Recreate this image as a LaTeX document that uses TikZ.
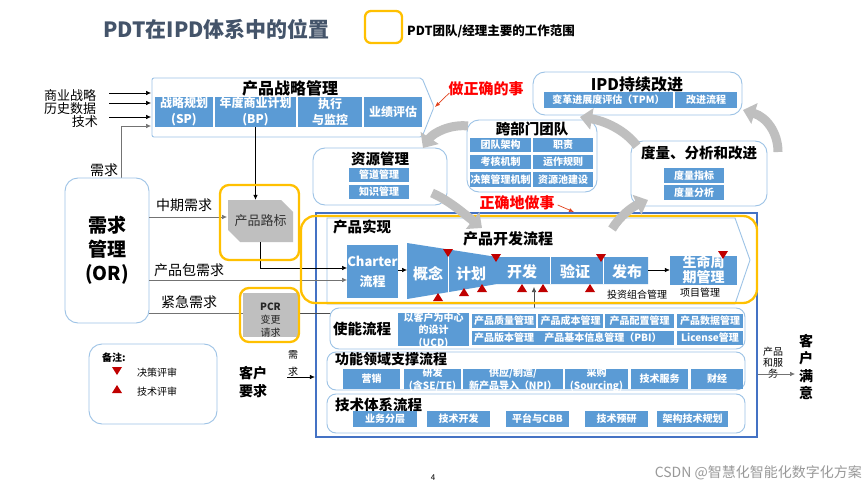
\documentclass[tikz,border=0pt]{standalone}
\usepackage{fontspec}
\setmainfont{Noto Sans CJK SC}
\usetikzlibrary{arrows.meta,shapes.misc}
\definecolor{bfill}{HTML}{5B9BD5}
\definecolor{lblue}{HTML}{9DC3E6}
\definecolor{ylw}{HTML}{FFC000}
\definecolor{dblue}{HTML}{4472C4}
\definecolor{gryA}{HTML}{BFBFBF}
\definecolor{ttl}{HTML}{44546A}
\definecolor{redA}{HTML}{C00000}
\definecolor{redB}{HTML}{FF0000}
\definecolor{redC}{HTML}{E2401A}
\newcommand\bx[8]{%
  \pgfmathsetmacro\bxcx{(#3+#5)/2}%
  \pgfmathsetmacro\bxcy{(#4+#6)/2}%
  \pgfmathsetmacro\bxw{#5-#3}%
  \pgfmathsetmacro\bxh{#6-#4}%
  \node[#1,minimum width=\bxw pt,minimum height=\bxh pt,inner sep=0pt] (#2) at (\bxcx,\bxcy) {};%
  \node[#8] (#2t) at (#2.center) {#7};%
}
\newcommand\dtri[2]{\fill[redA] ({#1-5},{#2-4}) -- ({#1+5},{#2-4}) -- (#1,{#2+4}) -- cycle;}
\newcommand\utri[2]{\fill[redA] ({#1-5},{#2+4}) -- ({#1+5},{#2+4}) -- (#1,{#2-4}) -- cycle;}
\tikzset{
 bb/.style={fill=bfill, draw=none},
 lbox/.style={draw=lblue, line width=0.9pt, fill=white, rounded corners=10pt},
 ybox/.style={draw=ylw, line width=2.3pt, rounded corners=9pt, inner sep=0pt},
 wt/.style={text=white, font=\bfseries\fontsize{10}{12.5}\selectfont, align=center, inner sep=0pt},
 wtb/.style={text=white, font=\bfseries\fontsize{12}{16}\selectfont, align=center, inner sep=0pt},
 wtc/.style={text=white, font=\bfseries\fontsize{15}{15}\selectfont, align=center, inner sep=0pt},
 hd/.style={font=\bfseries\fontsize{14.5}{15}\selectfont, inner sep=0pt},
 lbl/.style={font=\fontsize{14}{14}\selectfont, inner sep=0pt},
 sml/.style={font=\fontsize{10}{11}\selectfont, inner sep=0pt, align=center},
 connB/.style={-{Latex[length=5pt,width=4.5pt]}, line width=0.6pt, draw=black},
 connG/.style={-{Latex[length=5pt,width=4.5pt]}, line width=0.6pt, draw=black!55},
 lineG/.style={line width=0.6pt, draw=black!55},
 garr/.style={draw=gryA, line width=9pt, -{Triangle[length=12pt,width=21pt]}},
 rarr/.style={-{Latex[length=5pt,width=4pt]}, line width=0.7pt, draw=redC},
}
\begin{document}
\begin{tikzpicture}[x=1pt,y=-1pt]
\useasboundingbox (0,0) rectangle (865,487);
\fill[white] (0,0) rectangle (865,487);

% ---------- title and legend
\node[anchor=west, text=ttl, font=\bfseries\fontsize{21}{24}\selectfont, inner sep=0pt] (title) at (103,29) {PDT在IPD体系中的位置};
\node[ybox, minimum width=37pt, minimum height=32pt, rounded corners=6pt] (legbox) at (383.5,27) {};
\node[anchor=west, font=\bfseries\fontsize{12.5}{14}\selectfont, inner sep=0pt] (legtxt) at (407,31) {PDT团队/经理主要的工作范围};

% ---------- product strategy
\draw[draw=lblue, line width=0.9pt, fill=white, rounded corners=2pt] (152,78) -- (422,78) -- (434,107) -- (422,137) -- (152,137) -- cycle;
\coordinate (spoint) at (435,107);
\node[font=\bfseries\fontsize{16}{18}\selectfont, inner sep=0pt] (spm) at (290,88) {产品战略管理};
\bx{bb}{sp}{155}{97}{213}{127}{战略规划\\(SP)}{wtb}
\bx{bb}{bp}{215}{97}{296}{127}{年度商业计划\\(BP)}{wtb}
\bx{bb}{ex}{298}{97}{362}{127}{执行\\与监控}{wtb}
\bx{bb}{pe}{364}{97}{422}{127}{业绩评估}{wtb}

% ---------- inputs
\node[font=\fontsize{13}{13}\selectfont, inner sep=0pt, anchor=west] (in1) at (44,96) {商业战略};
\node[font=\fontsize{13}{13}\selectfont, inner sep=0pt, anchor=west] (in2) at (44,109) {历史数据};
\node[font=\fontsize{13}{13}\selectfont, inner sep=0pt, anchor=east] (in3) at (98,122) {技术};
\foreach \yy/\nm in {93/a,103/b,117/c}{\coordinate (s\nm) at (109,\yy); \coordinate (e\nm) at (151,\yy); \draw[connB] (s\nm) -- (e\nm);}
\coordinate (sd) at (121,178); \coordinate (ed) at (151,126);
\draw[connG] (sd) |- (ed);
\node[lbl] (xq) at (104,170) {需求};

% ---------- requirement management
\bx{lbox,rounded corners=13pt}{orb}{65}{178}{149}{323}{需求\\管理\\(OR)}{font=\bfseries\fontsize{19}{24}\selectfont, align=center, inner sep=0pt}
\node[lbl] (mq) at (184,205) {中期需求};
\node[lbl] (cq) at (189,270) {产品包需求};
\node[lbl] (jq) at (189,302) {紧急需求};

% ---------- roadmap
\node[chamfered rectangle, chamfered rectangle corners={north east,south west}, chamfered rectangle sep=6pt, fill=gryA, minimum width=65pt, minimum height=42pt, inner sep=0pt, font=\fontsize{13}{13}\selectfont, text=black!80] (rm) at (260.5,221) {产品路标};
\coordinate (rmin) at (227,217);
\draw[connG] (orb.east |- rmin) -- (rmin);
\draw[connB] (bp.south) -- (bp.south |- rm.north);

% ---------- PCR
\node[fill=gryA, minimum width=55pt, minimum height=44pt, inner sep=0pt] (pcr) at (270.5,315) {};
\node[align=center, font=\fontsize{10}{13}\selectfont, inner sep=0pt, text=black!85] (pcrt) at (270.5,320) {\textbf{PCR}\\变更\\请求};
\coordinate (jj) at (243,313);
\draw[lineG] (orb.east |- jj) -- (jj);

% ---------- upper boxes
\bx{lbox,rounded corners=12pt}{zy}{313}{148}{447}{205}{}{}
\node[hd] (zyh) at (380,159) {资源管理};
\bx{bb}{gd}{349}{168}{409}{182}{管道管理}{wt}
\bx{bb}{zs}{349}{185}{409}{199}{知识管理}{wt}

\bx{lbox,rounded corners=12pt}{kb}{467}{120}{597}{192}{}{}
\node[hd] (kbh) at (532,129) {跨部门团队};
\bx{bb}{k1}{470}{138}{531}{152}{团队架构}{wt}
\bx{bb}{k2}{533}{138}{593}{152}{职责}{wt}
\bx{bb}{k3}{470}{155}{531}{169}{考核机制}{wt}
\bx{bb}{k4}{533}{155}{593}{169}{运作规则}{wt}
\bx{bb}{k5}{470}{172}{531}{187}{决策管理机制}{wt}
\bx{bb}{k6}{533}{172}{593}{187}{资源池建设}{wt}

\bx{lbox,rounded corners=12pt}{ipd}{533}{72}{742}{115}{}{}
\node[font=\bfseries\fontsize{16}{16}\selectfont, inner sep=0pt] (ipdh) at (637,84) {IPD持续改进};
\bx{bb}{tpm}{544}{92}{673}{108}{变革进展度评估（TPM）}{wt}
\bx{bb}{gj}{675}{92}{737}{108}{改进流程}{wt}

\bx{lbox,rounded corners=12pt}{dl}{631}{141}{767}{206}{}{}
\node[hd] (dlh) at (699,153) {度量、分析和改进};
\bx{bb}{d1}{664}{168}{724}{183}{度量指标}{wt}
\bx{bb}{d2}{664}{185}{724}{200}{度量分析}{wt}

% ---------- main box
\node[draw=dblue, line width=2.2pt, fill=white, minimum width=441pt, minimum height=224pt, inner sep=0pt] (mainb) at (536.5,325) {};
\draw[draw=lblue, line width=0.9pt] (327,218) -- (735,218) -- (750,260) -- (735,304) -- (327,304) -- cycle;
\node[hd, anchor=west] (cpsx) at (333,227) {产品实现};
\node[font=\bfseries\fontsize{15}{15}\selectfont, inner sep=0pt] (cpkf) at (508,239) {产品开发流程};

% connectors into the product realisation
\coordinate (chin1) at (347,268);
\coordinate (chin2) at (347,280);
\draw[connB] (rm.south) |- (chin1);
\draw[connG] (orb.east |- chin2) -- (chin2);
\coordinate (kfup) at (534,287);
\draw[draw=black!70, line width=0.6pt, -{Latex[length=5pt,width=4.5pt]}] (pcr.east |- jj) -| (kfup);

% charter and funnel
\bx{bb}{ch}{347}{245}{398}{298}{Charter\\流程}{text=white, font=\bfseries\fontsize{13}{20}\selectfont, align=center, inner sep=0pt}
\fill[bfill] (407,243) -- (497,257) -- (648,257) -- (648,284) -- (497,284) -- (407,299) -- cycle;
\draw[white, line width=0.8pt] (448,249.4) -- (448,292.6);
\draw[white, line width=0.8pt] (550,257) -- (550,284);
\draw[white, line width=0.8pt] (603,257) -- (603,284);
\node[wtc] (gn) at (428,274) {概念};
\node[wtc] (jh) at (471,274) {计划};
\node[wtc] (kf) at (522,272) {开发};
\node[wtc] (yz) at (575,272) {验证};
\node[wtc] (fb) at (627,272) {发布};
\coordinate (gnin) at (407,270);
\draw[connB] (ch.east |- gnin) -- (gnin);
\bx{bb}{smz}{670}{256}{737}{285}{生命周\\期管理}{text=white, font=\bfseries\fontsize{14}{15}\selectfont, align=center, inner sep=0pt, yshift=1pt}
\coordinate (fbout) at (648,270);
\draw[connB] (fbout) -- (smz.west |- fbout);
\node[sml] (tz) at (637,295) {投资组合管理};
\node[sml] (xm) at (700,293) {项目管理};
% reviews
\dtri{448}{253}\dtri{496}{258}\dtri{601}{258}\dtri{723}{255}
\utri{438}{297}\utri{464}{292}\utri{482}{288}\utri{522}{288}\utri{543}{288}\utri{590}{288}

% ---------- enabling processes
\bx{lbox,rounded corners=9pt}{sn}{330}{308}{745}{349}{}{}
\node[hd] (snh) at (362,329) {使能流程};
\bx{bb}{ucd}{398}{313}{469}{346}{以客户为中心\\的设计\\(UCD)}{wt, yshift=-1pt}
\bx{bb}{q1}{472}{314}{536}{328}{产品质量管理}{wt}
\bx{bb}{q2}{538}{314}{603}{328}{产品成本管理}{wt}
\bx{bb}{q3}{605}{314}{674}{328}{产品配置管理}{wt}
\bx{bb}{q4}{677}{314}{743}{328}{产品数据管理}{wt}
\bx{bb}{q5}{472}{331}{674}{345}{}{}
\node[wt] (q5a) at (504,338) {产品版本管理};
\node[wt] (q5b) at (603,338) {产品基本信息管理（PBI）};
\bx{bb}{q6}{677}{331}{743}{345}{License管理}{wt}

\bx{lbox,rounded corners=9pt}{gn2}{327}{352}{745}{390}{}{}
\node[font=\bfseries\fontsize{14}{15}\selectfont, inner sep=0pt, anchor=west] (gnh) at (335,359.5) {功能领域支撑流程};
\bx{bb}{f1}{343}{369}{400}{389}{营销}{wt}
\bx{bb}{f2}{404}{369}{461}{389}{研发\\(含SE/TE)}{wt, font=\bfseries\fontsize{10}{13}\selectfont, yshift=-0.5pt}
\bx{bb}{f3}{463}{369}{563}{389}{供应/制造/\\新产品导入（NPI）}{wt, font=\bfseries\fontsize{10}{13}\selectfont, yshift=-0.5pt}
\bx{bb}{f4}{565}{369}{628}{389}{采购\\(Sourcing)}{wt, font=\bfseries\fontsize{10}{13}\selectfont, yshift=-0.5pt}
\bx{bb}{f5}{631}{369}{688}{389}{技术服务}{wt}
\bx{bb}{f6}{691}{369}{743}{389}{财经}{wt}

\bx{lbox,rounded corners=9pt}{js}{327}{394}{745}{433}{}{}
\node[hd, anchor=west] (jsh) at (335,405) {技术体系流程};
\bx{bb}{t1}{353}{411}{417}{427}{业务分层}{wt}
\bx{bb}{t2}{427}{411}{490}{427}{技术开发}{wt}
\bx{bb}{t3}{506}{411}{569}{427}{平台与CBB}{wt}
\bx{bb}{t4}{585}{411}{648}{427}{技术预研}{wt}
\bx{bb}{t5}{657}{411}{728}{427}{架构技术规划}{wt}

% ---------- yellow PDT scopes
\node[ybox, minimum width=79pt, minimum height=75pt] (rmy) at (259.5,222.5) {};
\node[ybox, minimum width=59pt, minimum height=54pt] (pcry) at (269.5,315) {};
\node[ybox, minimum width=456pt, minimum height=87pt, rounded corners=14pt] (bigy) at (529,259.5) {};

% ---------- legend box
\bx{lbox,rounded corners=13pt}{bz}{89}{344}{217}{424}{}{}
\node[font=\bfseries\fontsize{10}{10}\selectfont, inner sep=0pt] (bzh) at (114,358) {备注:};
\dtri{117}{371}\utri{117}{389}
\node[sml, anchor=west] (bz1) at (137,373) {决策评审};
\node[sml, anchor=west] (bz2) at (137,392) {技术评审};

% ---------- customer
\node[font=\bfseries\fontsize{14}{18}\selectfont, align=center, inner sep=0pt] (khyq) at (253,382) {客户\\要求};
\node[font=\fontsize{10}{17}\selectfont, align=center, inner sep=0pt] (xq2) at (293,363.5) {需\\求};
\coordinate (khs) at (287,377);
\draw[connB] (khs) -- (mainb.west |- khs);
\node[font=\fontsize{10}{11}\selectfont, align=center, inner sep=0pt] (cpfw) at (773,363) {产品\\和服\\务};
\coordinate (kmy) at (795,374);
\draw[connG] (mainb.east |- kmy) -- (kmy);
\node[font=\bfseries\fontsize{14}{17.5}\selectfont, align=center, inner sep=0pt] (khmy) at (806,367) {客\\户\\满\\意};

% ---------- gray cycle arrows
\draw[garr] (468,126) .. controls (450,124) and (433,133) .. (423,148);
\draw[garr] (432,193) .. controls (448,200) and (462,212) .. (482,228);
\draw[garr] (612,229) .. controls (620,216) and (632,207) .. (648,200);
\draw[garr] (637,146) .. controls (625,130) and (605,121) .. (580,117);
\draw[garr] (778,152) .. controls (778,132) and (766,117) .. (743,110);

% ---------- red notes
\node[text=redB, font=\bfseries\fontsize{15}{15}\selectfont, inner sep=0pt] (zq) at (486,89) {做正确的事};
\draw[rarr] ([xshift=1pt,yshift=-4pt]zq.west) -- (spoint);
\node[text=redB, font=\bfseries\fontsize{15}{15}\selectfont, inner sep=0pt] (zd) at (517,203) {正确地做事};
\coordinate (zdt) at (574,212);
\draw[rarr] ([xshift=3pt,yshift=-2pt]zd.east) -- (zdt);

% ---------- footer
\node[font=\fontsize{8}{8}\selectfont, inner sep=0pt] (pg) at (433,478) {4};
\node[text=black!40, font=\fontsize{14}{14}\selectfont, anchor=east, inner sep=0pt] (wm) at (862,473) {CSDN @智慧化智能化数字化方案};
\end{tikzpicture}
\end{document}
